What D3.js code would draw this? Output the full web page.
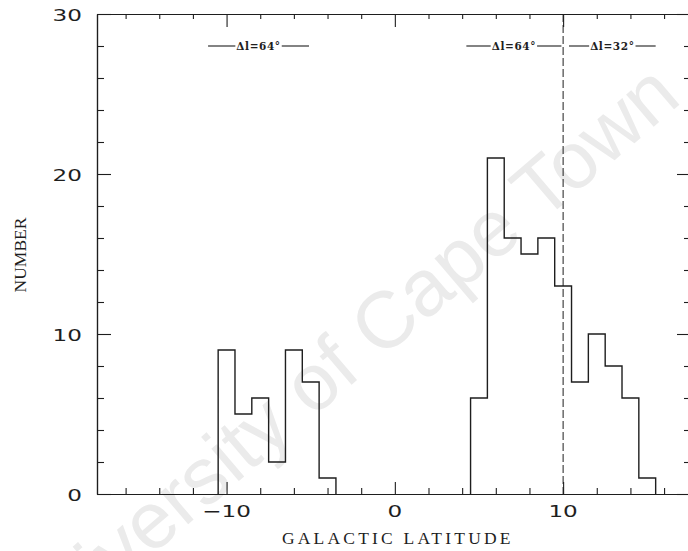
<!DOCTYPE html>
<html>
<head>
<meta charset="utf-8">
<script src="https://cdn.jsdelivr.net/npm/d3@7"></script>
<style>
  html, body { margin: 0; padding: 0; background: #fff; }
  svg { display: block; }
</style>
</head>
<body>
<svg id="chart" width="688" height="551"></svg>
<script>
// Histogram bins: centre latitude (deg) and number of objects per 1-degree bin
const southCenters = [-10, -9, -8, -7, -6, -5, -4];
const southCounts  = [9, 5, 6, 2, 9, 7, 1];
const northCenters = [5, 6, 7, 8, 9, 10, 11, 12, 13, 14, 15];
const northCounts  = [6, 21, 16, 15, 16, 13, 7, 10, 8, 6, 1];
const binWidth = 1;

// Axis ticks
const xMajorTicks = [-10, 0, 10];
const xMinorTicks = [-16, -14, -12, -8, -6, -4, -2, 2, 4, 6, 8, 12, 14, 16];
const xTickLabels = ["\u221210", "0", "10"];
const yMajorTicks = [0, 10, 20, 30];
const yMinorTicks = [2, 4, 6, 8, 12, 14, 16, 18, 22, 24, 26, 28];
const yTickLabels = ["0", "10", "20", "30"];

// Longitude-range annotations along the top
const rangeLabels = ["\u0394l=64\u00b0", "\u0394l=64\u00b0", "\u0394l=32\u00b0"];
const rangeFrom   = [-11.1, 4.25, 10.35];
const rangeTo     = [-5.1, 9.9, 15.5];
const rangeLevel  = 28;
const dividerAt   = 10;

const svg = d3.select("#chart");
const x = d3.scaleLinear().domain([-17.7, 17.6]).range([97, 691]);
const y = d3.scaleLinear().domain([0, 30]).range([494, 14]);

const ink = "#1e1e1e";

// faint diagonal watermark behind the plot
svg.append("text")
  .attr("transform", "translate(356,381) rotate(-40.5)")
  .attr("text-anchor", "middle")
  .attr("font-family", "Liberation Sans, Arial, sans-serif")
  .attr("font-size", 80)
  .attr("fill", "#ebebeb")
  .text("University of Cape Town");

// axes: major and minor ticks on all four sides
function tickAxis(axisFn, scale, ticks, size) {
  return axisFn(scale).tickValues(ticks).tickSize(size).tickSizeOuter(0).tickFormat("");
}
const frame = svg.append("g").attr("class", "frame");
const [x0, x1] = x.range();
const [y0, y1] = y.range();

frame.append("g").attr("transform", `translate(0,${y0})`).call(tickAxis(d3.axisTop, x, xMajorTicks, 12));
frame.append("g").attr("transform", `translate(0,${y0})`).call(tickAxis(d3.axisTop, x, xMinorTicks, 6));
frame.append("g").attr("transform", `translate(0,${y1})`).call(tickAxis(d3.axisBottom, x, xMajorTicks, 13));
frame.append("g").attr("transform", `translate(0,${y1})`).call(tickAxis(d3.axisBottom, x, xMinorTicks, 5));
frame.append("g").attr("transform", `translate(${x0},0)`).call(tickAxis(d3.axisRight, y, yMajorTicks, 14));
frame.append("g").attr("transform", `translate(${x0},0)`).call(tickAxis(d3.axisRight, y, yMinorTicks, 7));
frame.append("g").attr("transform", `translate(${x1},0)`).call(tickAxis(d3.axisLeft, y, yMajorTicks, 14));
frame.append("g").attr("transform", `translate(${x1},0)`).call(tickAxis(d3.axisLeft, y, yMinorTicks, 7));
frame.selectAll("path.domain").attr("stroke", ink).attr("stroke-width", 1.2);
frame.selectAll(".tick line").attr("stroke", ink).attr("stroke-width", 1.1);

// tick labels (wide plotter-style digits)
const digitFont = "DejaVu Sans, sans-serif";
svg.append("g").selectAll("text").data(xMajorTicks).join("text")
  .attr("transform", d => `translate(${x(d)},517) scale(1.4,1)`)
  .attr("text-anchor", "middle")
  .attr("font-family", digitFont).attr("font-size", 16.5).attr("fill", ink)
  .text((d, i) => xTickLabels[i]);
svg.append("g").selectAll("text").data(yMajorTicks).join("text")
  .attr("transform", d => `translate(82,${y(d) + 6.5}) scale(1.4,1)`)
  .attr("text-anchor", "end")
  .attr("font-family", digitFont).attr("font-size", 16.5).attr("fill", ink)
  .text((d, i) => yTickLabels[i]);

// axis titles
svg.append("text")
  .attr("x", (x(-10) + x(10)) / 2 + 3).attr("y", 544)
  .attr("text-anchor", "middle")
  .attr("font-family", "Liberation Serif, DejaVu Serif, serif")
  .attr("font-size", 17.5).attr("letter-spacing", 3.2).attr("fill", ink)
  .text("GALACTIC LATITUDE");
svg.append("text")
  .attr("transform", "translate(26,255) rotate(-90)")
  .attr("text-anchor", "middle")
  .attr("font-family", "Liberation Serif, DejaVu Serif, serif")
  .attr("font-size", 17.5).attr("fill", ink)
  .text("NUMBER");

// step outline for each group of bins
function stepPath(centers, counts) {
  const pts = [[x(centers[0] - binWidth / 2), y(0)]];
  centers.forEach((c, i) => {
    pts.push([x(c - binWidth / 2), y(counts[i])]);
    pts.push([x(c + binWidth / 2), y(counts[i])]);
  });
  pts.push([x(centers[centers.length - 1] + binWidth / 2), y(0)]);
  return d3.line()(pts);
}
const hist = svg.append("g")
  .attr("fill", "none").attr("stroke", ink).attr("stroke-width", 1.4)
  .attr("stroke-linejoin", "miter");
hist.append("path").attr("d", stepPath(southCenters, southCounts));
hist.append("path").attr("d", stepPath(northCenters, northCounts));

// dashed divider between the two longitude ranges
svg.append("line")
  .attr("x1", x(dividerAt)).attr("x2", x(dividerAt))
  .attr("y1", y(30)).attr("y2", y(0))
  .attr("stroke", ink).attr("stroke-width", 1)
  .attr("stroke-dasharray", "8,3");

// range annotations: a label between two short rules
const ann = svg.append("g");
rangeLabels.forEach((lab, i) => {
  const g = ann.append("g");
  const t = g.append("text")
    .attr("x", (x(rangeFrom[i]) + x(rangeTo[i])) / 2)
    .attr("y", y(rangeLevel) + 4)
    .attr("text-anchor", "middle")
    .attr("font-family", "DejaVu Serif, Liberation Serif, serif")
    .attr("font-size", 10.5).attr("font-weight", "bold")
    .attr("letter-spacing", 0.6).attr("fill", ink)
    .text(lab);
  const bb = t.node().getBBox();
  g.append("line").attr("x1", x(rangeFrom[i])).attr("x2", bb.x - 1)
    .attr("y1", y(rangeLevel)).attr("y2", y(rangeLevel))
    .attr("stroke", ink).attr("stroke-width", 1.1);
  g.append("line").attr("x1", bb.x + bb.width + 1).attr("x2", x(rangeTo[i]))
    .attr("y1", y(rangeLevel)).attr("y2", y(rangeLevel))
    .attr("stroke", ink).attr("stroke-width", 1.1);
});
</script>
</body>
</html>
